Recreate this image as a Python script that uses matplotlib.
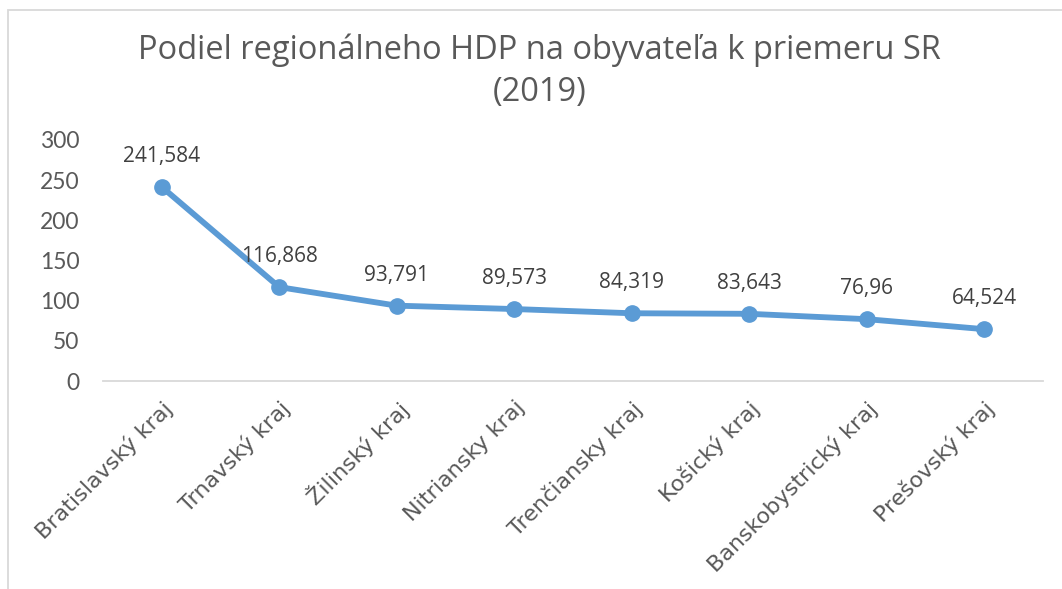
import matplotlib
matplotlib.use("Agg")
import matplotlib.pyplot as plt
from matplotlib.patches import Rectangle

categories = ["Bratislavský kraj", "Trnavský kraj", "Žilinský kraj", "Nitriansky kraj",
              "Trenčiansky kraj", "Košický kraj", "Banskobystrický kraj", "Prešovský kraj"]
values = [241.584, 116.868, 93.791, 89.573, 84.319, 83.643, 76.96, 64.524]
value_labels = ["241,584", "116,868", "93,791", "89,573", "84,319", "83,643", "76,96", "64,524"]
y_ticks = [0, 50, 100, 150, 200, 250, 300]

W, H = 1062, 589
fig = plt.figure(figsize=(W / 100, H / 100), dpi=100)
ax = fig.add_axes([103 / W, 1 - 381 / H, (1043 - 103) / W, (381 - 140) / H])

x = list(range(len(categories)))
ax.plot(x, values, color="#5B9BD5", linewidth=4.2, marker="o", markersize=11,
        solid_capstyle="round", zorder=3)

for xi, v, lab in zip(x, values, value_labels):
    ax.annotate(lab, (xi, v), xytext=(0, 22), textcoords="offset points",
                ha="center", va="center", fontsize=15, color="#404040",
                family="Open Sans")

ax.set_xlim(-0.5, len(categories) - 0.5)
ax.set_ylim(0, 300)
ax.set_yticks(y_ticks)
ax.set_yticklabels([str(t) for t in y_ticks], fontsize=16.5, color="#595959", family="Lato")
ax.set_xticks(x)
ax.set_xticklabels(categories, rotation=45, ha="right", rotation_mode="anchor",
                   fontsize=16, color="#595959", family="DejaVu Sans")
ax.tick_params(axis="y", length=0, pad=17)
ax.tick_params(axis="x", length=0, pad=12)
for s in ["top", "right", "left"]:
    ax.spines[s].set_visible(False)
ax.spines["bottom"].set_color("#D9D9D9")
ax.spines["bottom"].set_linewidth(1.3)

fig.text(0.508, 1 - 50 / H, "Podiel regionálneho HDP na obyvateľa k priemeru SR",
         ha="center", va="center", fontsize=23.5, color="#595959", family="Open Sans")
fig.text(0.508, 1 - 92 / H, "(2019)", ha="center", va="center", fontsize=23.5,
         color="#595959", family="Open Sans")

fig.patches.append(Rectangle((8 / W, -0.1), 1.2, 1.1 - 10 / H, transform=fig.transFigure,
                             fill=False, edgecolor="#D9D9D9", linewidth=1.3))

fig.savefig("out.png", dpi=100, facecolor="white")
